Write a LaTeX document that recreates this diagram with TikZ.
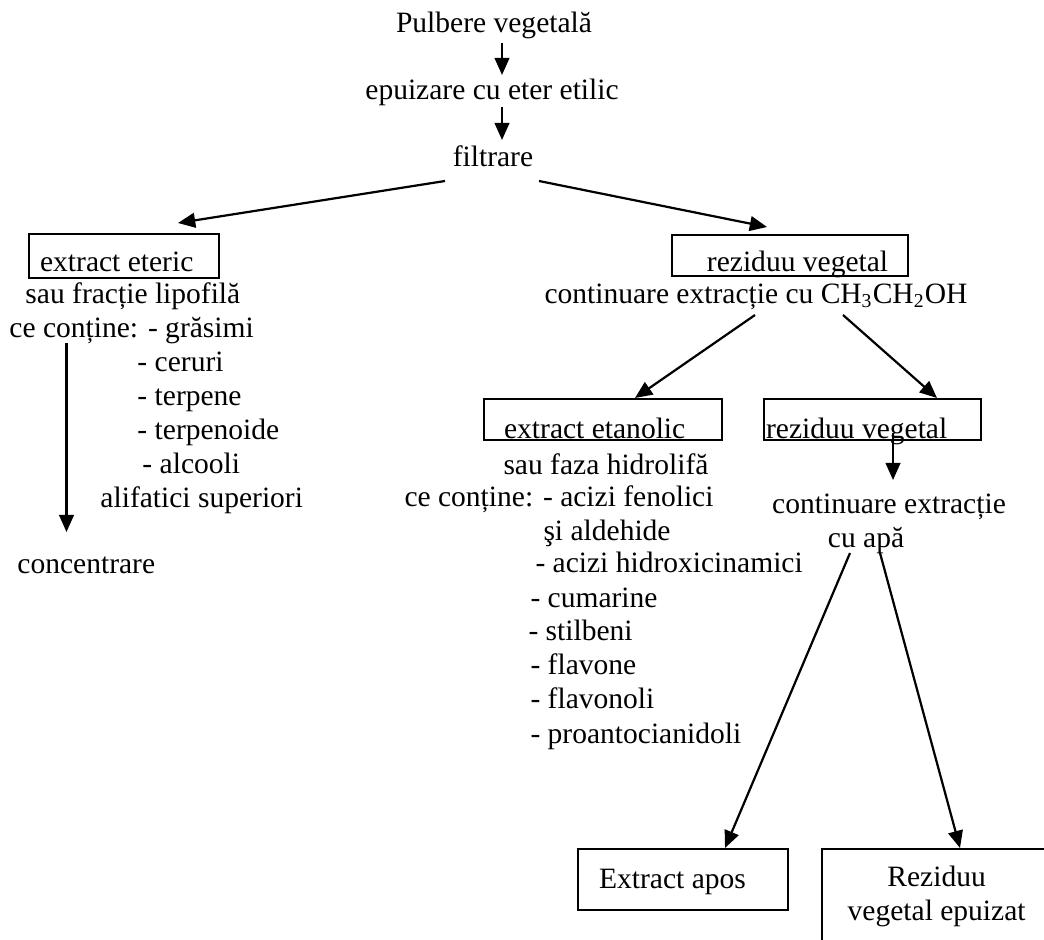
\documentclass[tikz,border=0pt]{standalone}
\usepackage{fontspec}
\setmainfont{Liberation Serif}
\usetikzlibrary{arrows.meta,positioning,calc}
\newlength{\px}
\setlength{\px}{0.4065pt}

\begin{document}
\begin{tikzpicture}[x=0.4065pt, y=-0.4065pt,
    font=\fontsize{12}{13.8}\selectfont,
    box/.style={draw, line width=0.9pt, inner ysep=0pt, anchor=north west, align=flush left},
    txt/.style={inner sep=0pt, anchor=base west},
    ctr/.style={inner sep=0pt, anchor=base},
    arr/.style={-{Triangle[length=7pt,width=6pt]}, line width=0.9pt}]
    \useasboundingbox (0,0) rectangle (1044,939);
    \clip (0,0) rectangle (1044,939);

    % Top steps
    \node[ctr] (pulb) at (494,33) {Pulbere vegetală};
    \node[ctr] (epuiz) at (492,100) {epuizare cu eter etilic};
    \node[ctr] (filtr) at (493,167) {filtrare};

    % Ether extract
    \node[box, inner xsep=11\px, text width=168\px, text height=37\px, text depth=7\px] (eteric) at (28,233) {extract eteric};
    \node[txt] (l1) at (25,303) {sau fracție lipofilă};
    \node[txt] (l2) at (9,337) {ce conține: - grăsimi};
    \node[txt] (l3) at (137,371) {- ceruri};
    \node[txt] (l4) at (137,405) {- terpene};
    \node[txt] (l5) at (137,439) {- terpenoide};
    \node[txt] (l6) at (142,473) {- alcooli};
    \node[txt] (l7) at (100,507) {alifatici superiori};
    \node[txt] (conc) at (17,573) {concentrare};

    % Plant residue
    \node[box, align=flush right, inner xsep=20\px, text width=196\px, text height=36\px, text depth=5\px] (rez1) at (671,234) {reziduu vegetal};
    \node[txt] (cont1) at (544,303) {continuare extracție cu CH\textsubscript{3}CH\textsubscript{2}OH};

    % Ethanol extract
    \node[box, inner xsep=20\px, text width=198\px, text height=39\px, text depth=2\px] (etan) at (483,398) {extract etanolic};
    \node[txt] (m1) at (503,474) {sau faza hidrolifă};
    \node[txt] (m2) at (404,506) {ce conține: - acizi fenolici};
    \node[txt] (m3) at (543,540) {şi aldehide};
    \node[txt] (m4) at (535,572) {- acizi hidroxicinamici};
    \node[txt] (m5) at (530,607) {- cumarine};
    \node[txt] (m6) at (528,640) {- stilbeni};
    \node[txt] (m7) at (530,674) {- flavone};
    \node[txt] (m8) at (530,708) {- flavonoli};
    \node[txt] (m9) at (530,743) {- proantocianidoli};

    % Second residue
    \node[box, inner xsep=2\px, text width=213\px, text height=39\px, text depth=2\px] (rez2) at (763,398) {reziduu vegetal};
    \node[ctr] (cont2) at (889,513) {continuare extracție};
    \node[ctr] (capa) at (866,547) {cu apă};

    % Final products
    \node[box, inner xsep=21\px, text width=168\px, text height=39\px, text depth=22\px] (apos) at (577,848) {Extract apos};
    \node[box, align=flush center, inner xsep=0pt, text width=229\px, text height=37\px, text depth=75\px] (epz) at (821,848) {Reziduu\\vegetal epuizat};

    % Arrows
    \draw[arr] ([shift={(8,10)}]pulb.base) -- ([shift={(10,-25)}]epuiz.base);
    \draw[arr] ([shift={(10,7)}]epuiz.base) -- ([shift={(9,-27)}]filtr.base);
    \draw[arr] ([shift={(-48,14)}]filtr.base) -- ([shift={(150,-10)}]eteric.north west);
    \draw[arr] ([shift={(46,14)}]filtr.base) -- ([shift={(96,-7)}]rez1.north west);
    \draw[arr] ([shift={(57.5,6)}]l2.base west) -- ([shift={(49.5,-41)}]conc.base west);
    \draw[arr] ([shift={(211,12)}]cont1.base west) -- ([shift={(152,0)}]etan.north west);
    \draw[arr] ([shift={(299,12)}]cont1.base west) -- ([shift={(174,0)}]rez2.north west);
    \draw[arr] ([shift={(130,35)}]rez2.north west) -- ([shift={(4,-33)}]cont2.base);
    \draw[arr] ([shift={(-16,6)}]capa.base) -- ([shift={(148,0)}]apos.north west);
    \draw[arr] ([shift={(14,6)}]capa.base) -- ([shift={(139,0)}]epz.north west);
\end{tikzpicture}
\end{document}
